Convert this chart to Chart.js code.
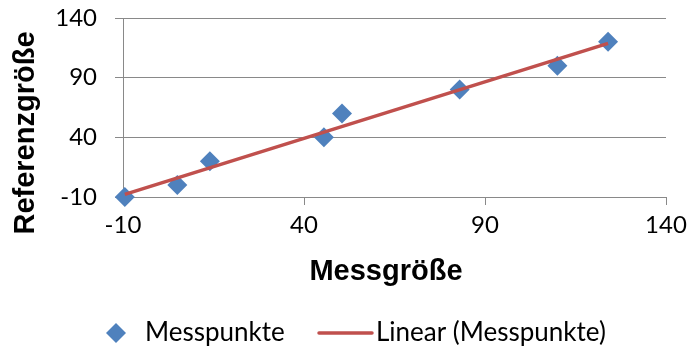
<!DOCTYPE html>
<html>
<head>
<meta charset="utf-8">
<script src="https://cdn.jsdelivr.net/npm/chart.js@4/dist/chart.umd.min.js"></script>
<style>
  html, body { margin: 0; padding: 0; background: #ffffff; }
  #wrap { width: 689px; height: 354px; position: relative; }
</style>
</head>
<body>
<div id="wrap"><canvas id="c" width="689" height="354"></canvas></div>
<script>
// Measured points: Messgröße (x) vs. Referenzgröße (y)
const messX = [-9.5, 5, 14, 45.5, 50.5, 83, 110, 124];
const messY = [-10, 0, 20, 40, 60, 80, 100, 120];

// Axis ticks (both axes share the same range and step)
const tickValues = [-10, 40, 90, 140];

const xTitle = 'Messgröße';
const yTitle = 'Referenzgröße';
const legendLabels = ['Messpunkte', 'Linear (Messpunkte)'];

const BLUE = '#4F81BD';
const RED = '#C0504D';
const GRID = '#898989';
const TICK_FONT = { family: 'Lato, "Noto Sans", sans-serif', size: 24 };
const LEGEND_FONT = '26px Lato, "Noto Sans", sans-serif';
const TITLE_FONT = 'bold 29px "Liberation Sans", Arial, sans-serif';

// Least-squares linear trend through the measured points
function linearFit(xs, ys) {
  const n = xs.length;
  const mx = xs.reduce((a, b) => a + b, 0) / n;
  const my = ys.reduce((a, b) => a + b, 0) / n;
  let sxy = 0, sxx = 0;
  for (let i = 0; i < n; i++) {
    sxy += (xs[i] - mx) * (ys[i] - my);
    sxx += (xs[i] - mx) * (xs[i] - mx);
  }
  const slope = sxy / sxx;
  return { slope, intercept: my - slope * mx };
}

const fit = linearFit(messX, messY);
const xMin = Math.min(...messX);
const xMax = Math.max(...messX);
const trendPoints = [xMin, xMax].map(x => ({ x, y: fit.slope * x + fit.intercept }));
const measuredPoints = messX.map((x, i) => ({ x, y: messY[i] }));

// Axis titles and legend drawn onto the canvas
const decorations = {
  id: 'decorations',
  afterDraw(chart) {
    const ctx = chart.ctx;
    ctx.save();
    ctx.fillStyle = '#000000';

    // x-axis title
    ctx.font = TITLE_FONT;
    ctx.textAlign = 'center';
    ctx.textBaseline = 'alphabetic';
    ctx.fillText(xTitle, 386, 280);

    // y-axis title (rotated)
    ctx.save();
    ctx.translate(34, 133);
    ctx.rotate(-Math.PI / 2);
    ctx.fillText(yTitle, 0, 0);
    ctx.restore();

    // legend
    const ly = 333;
    ctx.fillStyle = BLUE;
    ctx.beginPath();
    ctx.moveTo(116, ly - 10);
    ctx.lineTo(126, ly);
    ctx.lineTo(116, ly + 10);
    ctx.lineTo(106, ly);
    ctx.closePath();
    ctx.fill();

    ctx.strokeStyle = RED;
    ctx.lineWidth = 3.5;
    ctx.lineCap = 'round';
    ctx.beginPath();
    ctx.moveTo(319, ly);
    ctx.lineTo(372, ly);
    ctx.stroke();

    ctx.fillStyle = '#000000';
    ctx.font = LEGEND_FONT;
    ctx.textAlign = 'left';
    ctx.textBaseline = 'middle';
    ctx.fillText(legendLabels[0], 145, ly);
    ctx.fillText(legendLabels[1], 376, ly);
    ctx.restore();
  }
};

const setTicks = scale => { scale.ticks = tickValues.map(v => ({ value: v })); };

new Chart(document.getElementById('c'), {
  type: 'scatter',
  data: {
    datasets: [
      {
        label: legendLabels[1],
        data: trendPoints,
        showLine: true,
        borderColor: RED,
        borderWidth: 3.5,
        pointRadius: 0,
        pointHoverRadius: 0,
        clip: false,
        order: 0
      },
      {
        label: legendLabels[0],
        data: measuredPoints,
        pointStyle: 'rectRot',
        pointRadius: 10,
        pointHoverRadius: 10,
        backgroundColor: BLUE,
        borderColor: BLUE,
        borderWidth: 0,
        clip: false,
        order: 1
      }
    ]
  },
  options: {
    responsive: false,
    animation: false,
    events: [],
    layout: { padding: { left: 0, top: 18, right: 23, bottom: 0 } },
    plugins: {
      legend: { display: false },
      tooltip: { enabled: false },
      title: { display: false }
    },
    scales: {
      x: {
        type: 'linear',
        min: -10,
        max: 140,
        afterBuildTicks: setTicks,
        afterFit: s => { s.height = 157; s.paddingLeft = 0; s.paddingRight = 0; },
        grid: { drawOnChartArea: false, drawTicks: true, tickLength: 8, color: GRID, lineWidth: 1 },
        border: { display: true, color: GRID, width: 1 },
        ticks: { color: '#000000', font: TICK_FONT, padding: 6, maxRotation: 0 }
      },
      y: {
        type: 'linear',
        min: -10,
        max: 140,
        afterBuildTicks: setTicks,
        afterFit: s => { s.width = 123; s.paddingTop = 0; s.paddingBottom = 0; },
        grid: { drawOnChartArea: true, drawTicks: true, tickLength: 8, color: GRID, lineWidth: 1 },
        border: { display: true, color: GRID, width: 1 },
        ticks: { color: '#000000', font: TICK_FONT, padding: 18 }
      }
    }
  },
  plugins: [decorations]
});
</script>
</body>
</html>
